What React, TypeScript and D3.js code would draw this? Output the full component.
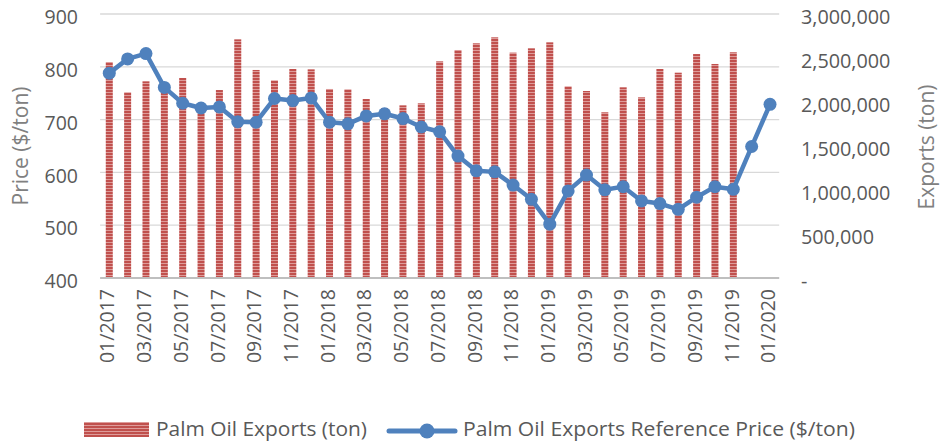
import React from "react";
import * as d3 from "d3";

const months: string[] = [
  "01/2017", "02/2017", "03/2017", "04/2017", "05/2017", "06/2017", "07/2017", "08/2017", "09/2017", "10/2017", "11/2017", "12/2017",
  "01/2018", "02/2018", "03/2018", "04/2018", "05/2018", "06/2018", "07/2018", "08/2018", "09/2018", "10/2018", "11/2018", "12/2018",
  "01/2019", "02/2019", "03/2019", "04/2019", "05/2019", "06/2019", "07/2019", "08/2019", "09/2019", "10/2019", "11/2019", "12/2019",
  "01/2020",
];

const tickMonths: string[] = [
  "01/2017", "03/2017", "05/2017", "07/2017", "09/2017", "11/2017",
  "01/2018", "03/2018", "05/2018", "07/2018", "09/2018", "11/2018",
  "01/2019", "03/2019", "05/2019", "07/2019", "09/2019", "11/2019",
  "01/2020",
];

const exportsTon: number[] = [
  2454000, 2110000, 2235000, 2182000, 2273000, 1909000, 2136000, 2712000, 2364000, 2246000, 2375000, 2371000,
  2148000, 2144000, 2034000, 1930000, 1962000, 1985000, 2462000, 2591000, 2667000, 2735000, 2561000, 2610000,
  2678000, 2178000, 2125000, 1883000, 2167000, 2053000, 2375000, 2333000, 2545000, 2432000, 2565000,
];

const priceUsd: number[] = [
  788, 815, 825, 761, 731, 722, 724, 696, 695, 740, 736, 741,
  695, 692, 707, 711, 702, 686, 677, 631, 603, 601, 576, 549,
  502, 565, 595, 567, 573, 546, 541, 530, 553, 573, 568, 649,
  729,
];

const leftTicks: number[] = [400, 500, 600, 700, 800, 900];
const rightTicks: number[] = [0, 500000, 1000000, 1500000, 2000000, 2500000, 3000000];

const seriesNames = {
  bars: "Palm Oil Exports (ton)",
  line: "Palm Oil Exports Reference Price ($/ton)",
};

export default function App() {
  const W = 943, H = 447;
  const left = 100.1, right = 779.2, top = 14, bottom = 278;
  const x = d3.scaleBand<string>().domain(months).range([left, right]).padding(0);
  const yL = d3.scaleLinear().domain([400, 900]).range([bottom, top]);
  const yR = d3.scaleLinear().domain([0, 3000000]).range([bottom, top]);
  const cx = (m: string) => (x(m) as number) + x.bandwidth() / 2;
  const barW = 7;
  const fmt = d3.format(",");

  const line = d3
    .line<number>()
    .x((_, i) => cx(months[i]))
    .y((d) => yL(d));

  const tickFont = "'Open Sans', sans-serif";
  const tickColor = "#595959";
  const titleColor = "#808080";

  return (
    <svg width={W} height={H} style={{ position: "absolute", left: 0, top: 0, background: "#fff" }}>
      <defs>
        <pattern id="stripes" patternUnits="userSpaceOnUse" width={4} height={3}>
          <rect x={0} y={0} width={4} height={3} fill="#C0504D" />
          <rect x={0} y={2} width={4} height={1} fill="#DE9C9A" />
        </pattern>
      </defs>
      <rect width={W} height={H} fill="#fff" />
      {/* gridlines */}
      {leftTicks.slice(1).map((t) => (
        <line key={t} x1={left} x2={right} y1={yL(t)} y2={yL(t)} stroke="#D9D9D9" strokeWidth={1.3} />
      ))}
      {/* bars */}
      {exportsTon.map((v, i) => (
        <rect
          key={months[i]}
          x={cx(months[i]) - barW / 2}
          y={yR(v)}
          width={barW}
          height={bottom - yR(v)}
          fill="url(#stripes)"
        />
      ))}
      {/* axis line */}
      <line x1={left} x2={right} y1={bottom} y2={bottom} stroke="#BFBFBF" strokeWidth={2.2} />
      {/* line series */}
      <path d={line(priceUsd) || ""} fill="none" stroke="#4F81BD" strokeWidth={4.5} strokeLinejoin="round" />
      {priceUsd.map((v, i) => (
        <circle key={months[i]} cx={cx(months[i])} cy={yL(v)} r={6.5} fill="#4F81BD" />
      ))}
      {/* left ticks */}
      {leftTicks.map((t) => (
        <text
          key={t}
          x={78}
          y={yL(t) + 5}
          textAnchor="end"
          dominantBaseline="middle"
          fontFamily={tickFont}
          fontSize={19.5}
          fill={tickColor}
        >
          {t}
        </text>
      ))}
      {/* right ticks */}
      {rightTicks.map((t) => (
        <text
          key={t}
          x={801}
          y={yR(t) + 5}
          textAnchor="start"
          dominantBaseline="middle"
          fontFamily={tickFont}
          fontSize={19.8}
          fill={tickColor}
        >
          {t === 0 ? "-" : fmt(t)}
        </text>
      ))}
      {/* x ticks */}
      {tickMonths.map((m) => (
        <text
          key={m}
          transform={`translate(${cx(m)},289) rotate(-90)`}
          textAnchor="end"
          dominantBaseline="middle"
          fontFamily={tickFont}
          fontSize={19.5}
          fill={tickColor}
        >
          {m}
        </text>
      ))}
      {/* axis titles */}
      <text
        transform={`translate(22,146) rotate(-90)`}
        textAnchor="middle"
        dominantBaseline="middle"
        fontFamily={tickFont}
        fontSize={21}
        fill={titleColor}
      >
        Price ($/ton)
      </text>
      <text
        transform={`translate(928,147) rotate(-90)`}
        textAnchor="middle"
        dominantBaseline="middle"
        fontFamily={tickFont}
        fontSize={21}
        fill={titleColor}
      >
        Exports (ton)
      </text>
      {/* legend */}
      <rect x={84} y={422} width={65} height={15} fill="url(#stripes)" />
      <text
        x={156}
        y={431}
        dominantBaseline="middle"
        fontFamily={tickFont}
        fontSize={20}
        fill={tickColor}
        textLength={211}
        lengthAdjust="spacingAndGlyphs"
      >
        {seriesNames.bars}
      </text>
      <line x1={389} x2={455} y1={431} y2={431} stroke="#4F81BD" strokeWidth={5} strokeLinecap="round" />
      <circle cx={427} cy={431} r={7.5} fill="#4F81BD" />
      <text
        x={463}
        y={431}
        dominantBaseline="middle"
        fontFamily={tickFont}
        fontSize={20}
        fill={tickColor}
        textLength={392}
        lengthAdjust="spacingAndGlyphs"
      >
        {seriesNames.line}
      </text>
    </svg>
  );
}
